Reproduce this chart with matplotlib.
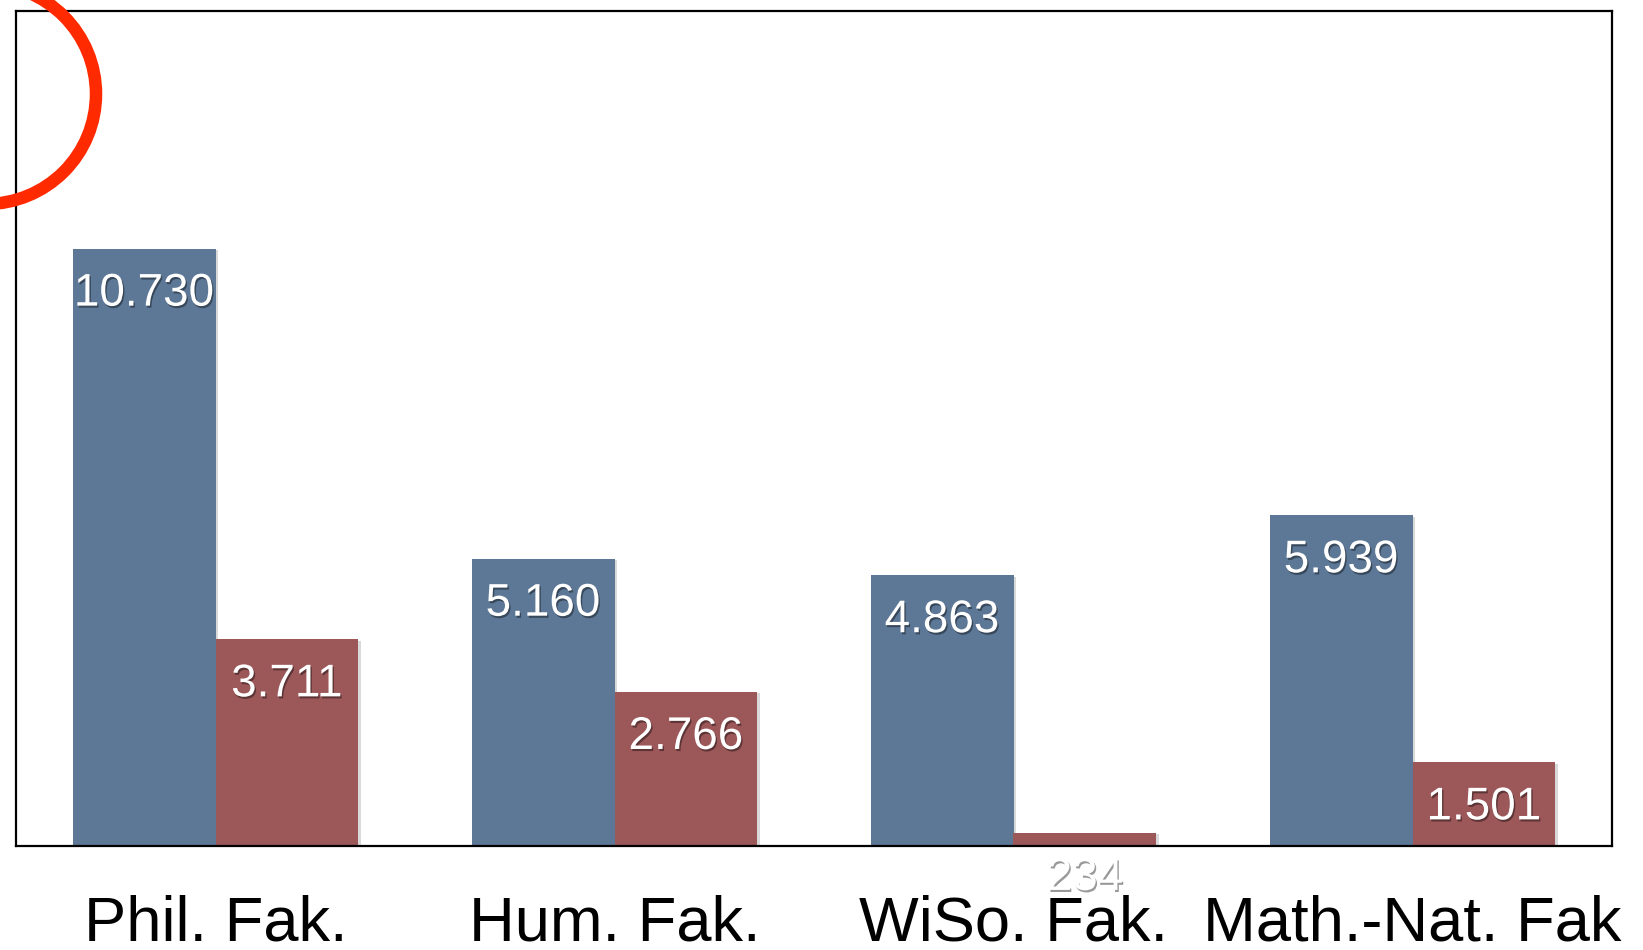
import numpy as np
import matplotlib
matplotlib.use("Agg")
import matplotlib.pyplot as plt
import matplotlib.patheffects as pe
from matplotlib.patches import Ellipse

faculties = ["Phil. Fak.", "Hum. Fak.", "WiSo. Fak.", "Math.-Nat. Fak"]
series_a = [10730, 5160, 4863, 5939]
series_b = [3711, 2766, 234, 1501]

blue = "#5d7897"
red = "#9c5759"

plt.rcParams["font.family"] = ["Liberation Sans", "DejaVu Sans"]

fig = plt.figure(figsize=(16.43, 9.5), dpi=100)
ax = fig.add_axes([16 / 1643, 1 - 846 / 950, (1612 - 16) / 1643, (846 - 11) / 950])

x = np.arange(len(faculties))
w = 0.358
bar_shadow = [pe.SimplePatchShadow(offset=(2, -1), shadow_rgbFace="k", alpha=0.15), pe.Normal()]
bars_a = ax.bar(x - w / 2, series_a, w, color=blue, path_effects=bar_shadow)
bars_b = ax.bar(x + w / 2, series_b, w, color=red, path_effects=bar_shadow)

ax.set_xlim(-0.5, len(faculties) - 0.5)
ax.set_ylim(0, 15000)
ax.set_yticks([])
ax.set_xticks([])
for s in ax.spines.values():
    s.set_linewidth(1.6)
    s.set_color("black")


def fmt(v):
    return f"{v:,}".replace(",", ".")


txt_shadow = [pe.withSimplePatchShadow(offset=(1, -1.5), shadow_rgbFace="k", alpha=0.4)]
for bars, vals in [(bars_a, series_a), (bars_b, series_b)]:
    for b, v in zip(bars, vals):
        ax.annotate(fmt(v), (b.get_x() + b.get_width() / 2, v), xytext=(0, -41),
                    textcoords="offset points", ha="center", va="baseline",
                    fontsize=33, color="white", path_effects=txt_shadow,
                    annotation_clip=False)

for i, name in enumerate(faculties):
    ax.annotate(name, (i, 0), xycoords=("data", "axes fraction"), xytext=(0, -68),
                textcoords="offset points", ha="center", va="baseline",
                fontsize=45.5, color="black", annotation_clip=False)

# red circle mark in the top left corner
circ = Ellipse((-14, 950 - 94), 220, 220, transform=None, fill=False,
               edgecolor="#ff2a00", linewidth=9, zorder=10)
fig.patches.append(circ)

fig.savefig("out.png", dpi=100)
